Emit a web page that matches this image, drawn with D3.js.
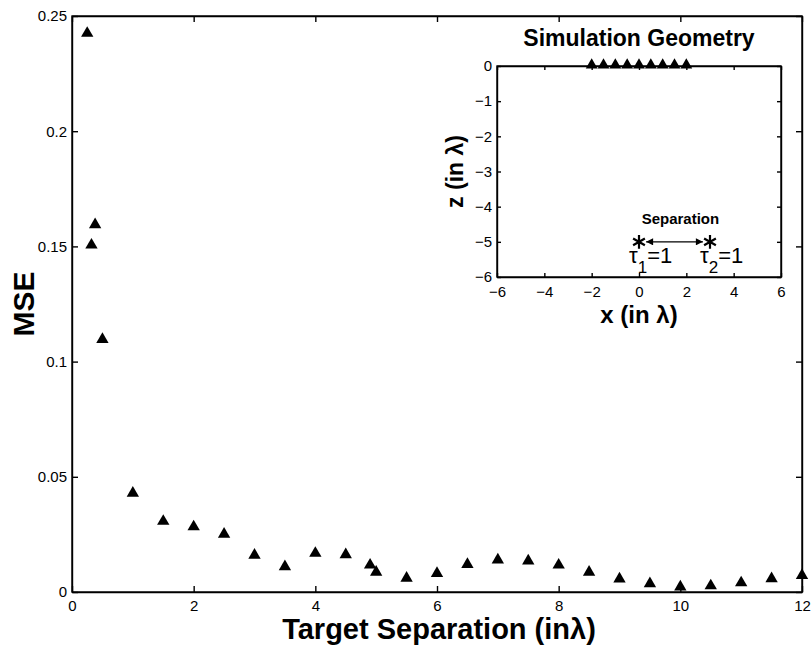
<!DOCTYPE html>
<html lang="en">
<head>
<meta charset="UTF-8">
<title>MSE vs Target Separation</title>
<script src="https://d3js.org/d3.v7.min.js"></script>
<style>
  body { margin: 0; background: #fff; }
  svg { display: block; font-family: "Liberation Sans", Arial, sans-serif; }
  .axis path, .axis line { stroke: #000; stroke-width: 1.4; }
  .axis text { fill: #000; font-size: 15px; }
</style>
</head>
<body>
<script>
// main plot data
var sepX = [0.25, 0.38, 0.32, 0.5, 1, 1.5, 2, 2.5, 3, 3.5, 4, 4.5, 4.9, 5, 5.5, 6, 6.5, 7, 7.5, 8, 8.5, 9, 9.5, 10, 10.5, 11, 11.5, 12];
var mse  = [0.2425, 0.1594, 0.1506, 0.1096, 0.0429, 0.0307, 0.0283, 0.0251, 0.016, 0.011, 0.0168, 0.0162, 0.0117, 0.0086, 0.006, 0.0081, 0.012, 0.0139, 0.0135, 0.0117, 0.0086, 0.0057, 0.0036, 0.0022, 0.0027, 0.004, 0.0058, 0.0072];
var xTicks = [0, 2, 4, 6, 8, 10, 12];
var yTicks = [0, 0.05, 0.1, 0.15, 0.2, 0.25];
var yTickLabels = ["0", "0.05", "0.1", "0.15", "0.2", "0.25"];

// inset (simulation geometry) data
var sensorX = [-2, -1.5, -1, -0.5, 0, 0.5, 1, 1.5, 2];
var sensorZ = [0, 0, 0, 0, 0, 0, 0, 0, 0];
var targetX = [0, 3];
var targetZ = [-5, -5];
var targetSub = ["1", "2"];
var insetXTicks = [-6, -4, -2, 0, 2, 4, 6];
var insetZTicks = [0, -1, -2, -3, -4, -5, -6];

var W = 812, H = 646;
var margin = {top: 16, right: 10, bottom: 54, left: 72};
var width = W - margin.left - margin.right;
var height = H - margin.top - margin.bottom;

var svg = d3.select("body").append("svg")
    .attr("width", W)
    .attr("height", H);

var chart = svg.append("g")
    .attr("transform", "translate(" + margin.left + "," + margin.top + ")");

var x = d3.scaleLinear().domain([0, 12]).range([0, width]);
var y = d3.scaleLinear().domain([0, 0.25]).range([height, 0]);

// axes, ticks pointing inward like matlab
chart.append("g").attr("class", "axis")
    .attr("transform", "translate(0," + height + ")")
    .call(d3.axisBottom(x).tickValues(xTicks).tickSizeInner(-6).tickSizeOuter(0).tickPadding(8));
chart.append("g").attr("class", "axis")
    .call(d3.axisTop(x).tickValues(xTicks).tickSizeInner(-6).tickSizeOuter(0).tickFormat(""));
chart.append("g").attr("class", "axis")
    .call(d3.axisLeft(y).tickValues(yTicks).tickSizeInner(-6).tickSizeOuter(0).tickPadding(5)
        .tickFormat(function(d, i) { return yTickLabels[i]; }));
chart.append("g").attr("class", "axis")
    .attr("transform", "translate(" + width + ",0)")
    .call(d3.axisRight(y).tickValues(yTicks).tickSizeInner(-6).tickSizeOuter(0).tickFormat(""));

chart.append("rect")
    .attr("width", width).attr("height", height)
    .attr("fill", "none").attr("stroke", "#000").attr("stroke-width", 1.4);

chart.selectAll(".pt")
    .data(sepX)
    .enter().append("path")
    .attr("class", "pt")
    .attr("d", d3.symbol(d3.symbolTriangle, 66))
    .attr("transform", function(d, i) { return "translate(" + x(d) + "," + y(mse[i]) + ")"; })
    .attr("fill", "#000");

// axis labels
chart.append("text")
    .attr("x", width / 2 + 2).attr("y", height + 47)
    .attr("text-anchor", "middle")
    .style("font-size", "29px").style("font-weight", "bold")
    .text("Target Separation (in\u03bb)");

chart.append("text")
    .attr("transform", "translate(-38," + height / 2 + ") rotate(-90)")
    .attr("text-anchor", "middle")
    .style("font-size", "30px").style("font-weight", "bold")
    .text("MSE");

// ---- inset ----
var inset = {left: 497, top: 66, w: 284, h: 211};
var ig = svg.append("g")
    .attr("transform", "translate(" + inset.left + "," + inset.top + ")");

var ix = d3.scaleLinear().domain([-6, 6]).range([0, inset.w]);
var iz = d3.scaleLinear().domain([-6, 0]).range([inset.h, 0]);

ig.append("rect").attr("width", inset.w).attr("height", inset.h).attr("fill", "#fff");

ig.append("g").attr("class", "axis")
    .attr("transform", "translate(0," + inset.h + ")")
    .call(d3.axisBottom(ix).tickValues(insetXTicks).tickSizeInner(-4).tickSizeOuter(0).tickPadding(9)
        .tickFormat(d3.format("d")));
ig.append("g").attr("class", "axis")
    .call(d3.axisTop(ix).tickValues(insetXTicks).tickSizeInner(-4).tickSizeOuter(0).tickFormat(""));
ig.append("g").attr("class", "axis")
    .call(d3.axisLeft(iz).tickValues(insetZTicks).tickSizeInner(-4).tickSizeOuter(0).tickPadding(5)
        .tickFormat(d3.format("d")));
ig.append("g").attr("class", "axis")
    .attr("transform", "translate(" + inset.w + ",0)")
    .call(d3.axisRight(iz).tickValues(insetZTicks).tickSizeInner(-4).tickSizeOuter(0).tickFormat(""));

ig.append("rect")
    .attr("width", inset.w).attr("height", inset.h)
    .attr("fill", "none").attr("stroke", "#000").attr("stroke-width", 1.4);

ig.append("text")
    .attr("x", inset.w / 2).attr("y", -20)
    .attr("text-anchor", "middle")
    .style("font-size", "23px").style("font-weight", "bold")
    .text("Simulation Geometry");

ig.append("text")
    .attr("x", inset.w / 2).attr("y", inset.h + 46)
    .attr("text-anchor", "middle")
    .style("font-size", "24px").style("font-weight", "bold")
    .text("x (in \u03bb)");

ig.append("text")
    .attr("transform", "translate(-34," + inset.h / 2 + ") rotate(-90)")
    .attr("text-anchor", "middle")
    .style("font-size", "23px").style("font-weight", "bold")
    .text("z (in \u03bb)");

// sensor array
ig.selectAll(".sensor")
    .data(sensorX)
    .enter().append("path")
    .attr("d", d3.symbol(d3.symbolTriangle, 60))
    .attr("transform", function(d, i) { return "translate(" + ix(d) + "," + (iz(sensorZ[i]) - 1) + ")"; })
    .attr("fill", "#000");

// separation arrow
var defs = svg.append("defs");
defs.append("marker")
    .attr("id", "head")
    .attr("viewBox", "0 0 10 10")
    .attr("refX", 10).attr("refY", 5)
    .attr("markerWidth", 10).attr("markerHeight", 7)
    .attr("markerUnits", "userSpaceOnUse")
    .attr("orient", "auto-start-reverse")
    .append("path").attr("d", "M0,0L10,5L0,10z").attr("fill", "#000");

ig.append("line")
    .attr("x1", ix(targetX[0] + 0.3)).attr("x2", ix(targetX[1] - 0.3))
    .attr("y1", iz(targetZ[0])).attr("y2", iz(targetZ[1]))
    .attr("stroke", "#000").attr("stroke-width", 1.3)
    .attr("marker-start", "url(#head)").attr("marker-end", "url(#head)");

ig.append("text")
    .attr("x", ix(1.75)).attr("y", iz(-4.5))
    .attr("text-anchor", "middle")
    .style("font-size", "15px").style("font-weight", "bold")
    .text("Separation");

// targets
ig.selectAll(".target")
    .data(targetX)
    .enter().append("path")
    .attr("d", d3.symbol(d3.symbolAsterisk, 130))
    .attr("transform", function(d, i) { return "translate(" + ix(d) + "," + iz(targetZ[i]) + ")"; })
    .attr("fill", "none").attr("stroke", "#000").attr("stroke-width", 2.2);

var tau = ig.selectAll(".tau")
    .data(targetX)
    .enter().append("text")
    .attr("x", function(d) { return ix(d) - 10; })
    .attr("y", function(d, i) { return iz(targetZ[i]) + 21; })
    .style("font-size", "22px");
tau.append("tspan").text("\u03c4");
tau.append("tspan").attr("dy", 10).style("font-size", "17px").text(function(d, i) { return targetSub[i]; });
tau.append("tspan").attr("dy", -10).text("=1");
</script>
</body>
</html>
